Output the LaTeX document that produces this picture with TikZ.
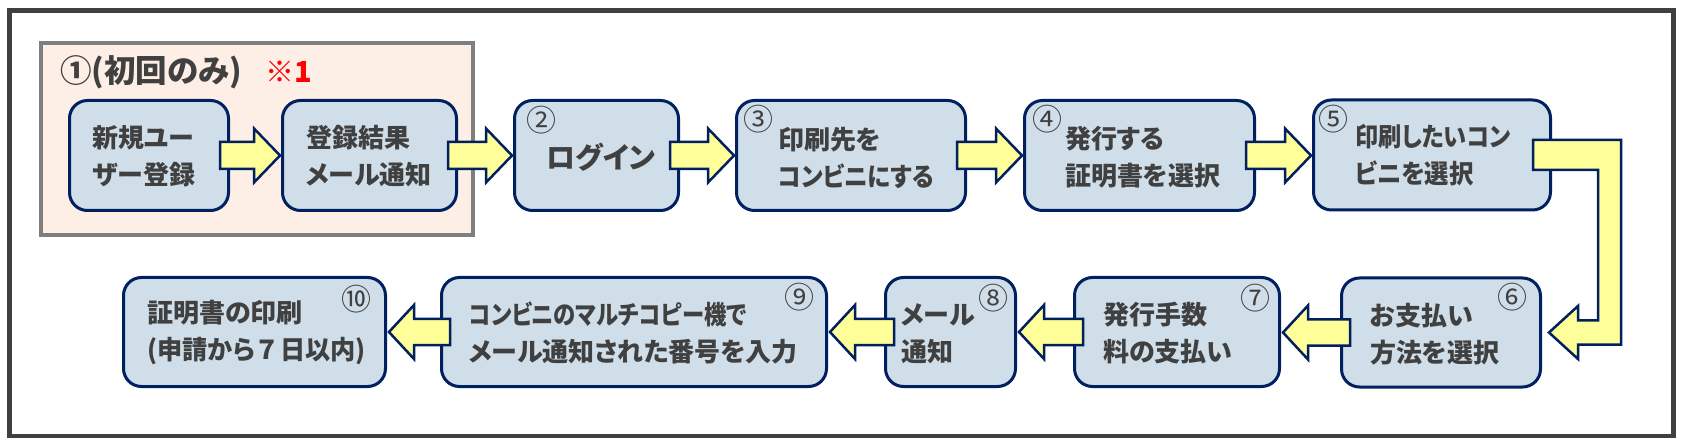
\documentclass[tikz,border=0pt]{standalone}
\usepackage{fontspec}
\usepackage{graphicx}
\setmainfont{Noto Sans CJK JP}[RawFeature=+palt]
\newfontfamily\jpnum{Noto Sans CJK JP}
\usetikzlibrary{calc}
\definecolor{navy}{HTML}{002060}
\definecolor{boxfill}{HTML}{CFDEE8}
\definecolor{txt}{HTML}{404040}
\definecolor{arrfill}{HTML}{FFFF99}
\definecolor{grpfill}{HTML}{FDEEE6}
\definecolor{grpline}{HTML}{7F7F7F}
\definecolor{framecol}{HTML}{404040}
\tikzset{
 stepbox/.style={draw=navy, line width=3pt, fill=boxfill, rounded corners=18pt, inner sep=0pt},
 lbl/.style={anchor=west, inner sep=0pt, align=left, text=txt, font=\bfseries\fontsize{26}{37}\selectfont},
 num/.style={inner sep=0pt, text=txt, font=\jpnum\fontsize{30}{30}\selectfont},
 blk/.style={draw=navy, line width=2.5pt, fill=arrfill, line join=miter},
}
\newcommand\rblk[2]{\draw[blk] let \p1=(#1.east), \p2=(#2.west) in
  (\x1-10pt,\y1+13.5pt) -- (\x2-27pt,\y1+13.5pt) -- (\x2-27pt,\y1+27pt) -- (\x2-1pt,\y1)
  -- (\x2-27pt,\y1-27pt) -- (\x2-27pt,\y1-13.5pt) -- (\x1-10pt,\y1-13.5pt) -- cycle;}
\newcommand\lblk[2]{\draw[blk] let \p1=(#1.west), \p2=(#2.east) in
  (\x1+10pt,\y1+13pt) -- (\x2+27pt,\y1+13pt) -- (\x2+27pt,\y1+27pt) -- (\x2+2pt,\y1)
  -- (\x2+27pt,\y1-27pt) -- (\x2+27pt,\y1-13pt) -- (\x1+10pt,\y1-13pt) -- cycle;}
\newcommand\sx[2]{\scalebox{#1}[1]{#2}}
\begin{document}
\begin{tikzpicture}[x=1pt,y=-1pt]
\useasboundingbox (0,0) rectangle (1684,446);
\fill[white] (0,0) rectangle (1684,446);
\draw[framecol, line width=4.5pt] (9.5,10.5) rectangle (1673.5,436);
% group
\node[draw=grpline, line width=3.5pt, fill=grpfill, minimum width=432pt, minimum height=192pt, inner sep=0pt] (grp) at (257,139) {};
\node[anchor=west, inner sep=0pt, text=txt, font=\bfseries\fontsize{31.5}{31.5}\selectfont] (gtitle) at (60,72) {①(初回のみ)};
\node[anchor=west, inner sep=0pt, text=red, font=\bfseries\fontsize{29}{29}\selectfont] (gnote) at (265,72) {※1};
% top row
\node[stepbox, minimum width=159pt, minimum height=110pt] (b1) at (149,155.5) {};
\node[stepbox, minimum width=174pt, minimum height=110pt] (b2) at (369.5,155.5) {};
\node[stepbox, minimum width=164pt, minimum height=110pt] (n2) at (596.5,155.5) {};
\node[stepbox, minimum width=229pt, minimum height=110pt] (n3) at (851,155.5) {};
\node[stepbox, minimum width=230pt, minimum height=110pt] (n4) at (1139.5,155.5) {};
\node[stepbox, minimum width=237pt, minimum height=110pt] (n5) at (1432,155) {};
% bottom row
\node[stepbox, minimum width=199pt, minimum height=109pt] (n6) at (1441,332.5) {};
\node[stepbox, minimum width=205pt, minimum height=109pt] (n7) at (1177,332) {};
\node[stepbox, minimum width=130pt, minimum height=109pt] (n8) at (950.5,332) {};
\node[stepbox, minimum width=385pt, minimum height=109pt] (n9) at (634,332) {};
\node[stepbox, minimum width=262pt, minimum height=109pt] (n10) at (254.5,332) {};
% labels
\node[lbl] (t1) at (92,156.5) {新規ユー\\ザー登録};
\node[lbl] (t2) at (306,156.5) {登録結果\\メール通知};
\node[lbl, font=\bfseries\fontsize{29}{29}\selectfont] (t3) at (546,157) {ログイン};
\node[lbl] (t4) at (778,157.5) {印刷先を\\\sx{0.91}{コンビニにする}};
\node[lbl] (t5) at (1065,157) {発行する\\証明書を選択};
\node[lbl] (t6) at (1355,155.5) {\sx{0.89}{印刷したいコン}\\\sx{0.94}{ビニを選択}};
\node[lbl] (t7) at (1370,334) {お支払い\\方法を選択};
\node[lbl] (t8) at (1103,333.5) {発行手数\\料の支払い};
\node[lbl] (t9) at (901,333.5) {メール\\通知};
\node[lbl] (t10) at (469,332.5) {\sx{0.86}{コンビニのマルチコピー機で}\\メール通知された番号を入力};
\node[lbl] (t11) at (147,332.5) {証明書の印刷\\\sx{0.97}{(申請から{\jpnum\bfseries ７}日以内)}};
% numbers
\node[num] (c2) at (541,120) {②};
\node[num] (c3) at (758,119) {③};
\node[num] (c4) at (1047,119.5) {④};
\node[num] (c5) at (1333,119.5) {⑤};
\node[num] (c6) at (1512,297) {⑥};
\node[num] (c7) at (1255,298) {⑦};
\node[num] (c8) at (993,298) {⑧};
\node[num] (c9) at (799,297) {⑨};
\node[num] (c10) at (356,299) {⑩};
% arrows
\rblk{b1}{b2}
\rblk{b2}{n2}
\rblk{n2}{n3}
\rblk{n3}{n4}
\rblk{n4}{n5}
\draw[blk] let \p1=(n5.east), \p2=(n6.east) in
  (\x1-19pt,\y1+15pt) -- (\x1+69pt,\y1+15pt) -- (\x1+69pt,\y2-12pt) -- (\x2+36pt,\y2-12pt)
  -- (\x2+36pt,\y2-26.5pt) -- (\x2+7pt,\y2) -- (\x2+36pt,\y2+26.5pt) -- (\x2+36pt,\y2+12pt)
  -- (\x1+46pt,\y2+12pt) -- (\x1+46pt,\y1-15pt) -- (\x1-19pt,\y1-15pt) -- cycle;
\lblk{n6}{n7}
\lblk{n7}{n8}
\lblk{n8}{n9}
\lblk{n9}{n10}
\end{tikzpicture}
\end{document}
